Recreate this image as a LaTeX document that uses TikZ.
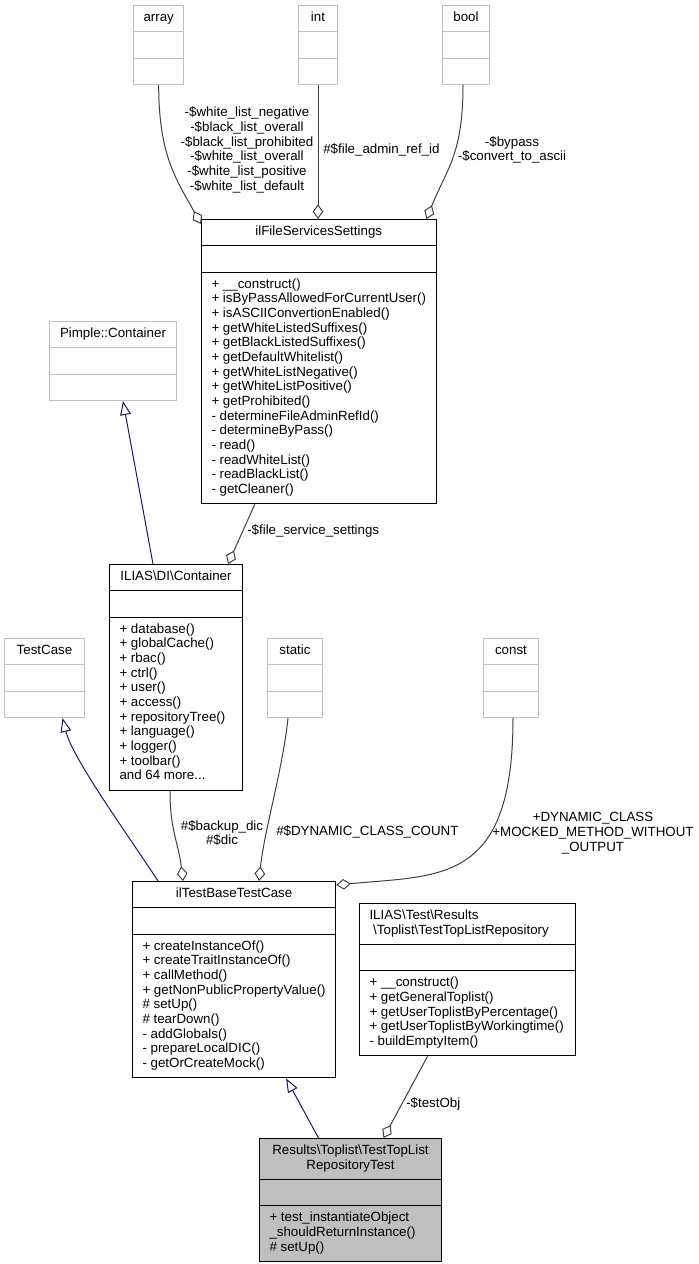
\documentclass[tikz,border=0pt]{standalone}
\usepackage{fontspec}
\setmainfont{Liberation Sans}
\usetikzlibrary{shapes.multipart,arrows.meta,calc}
\definecolor{extgray}{HTML}{BFBFBF}
\definecolor{curfill}{HTML}{BFBFBF}
\definecolor{aggline}{HTML}{404040}
\definecolor{inhline}{HTML}{191970}
\newcommand{\bs}{\textbackslash}
\tikzset{
  umlclass/.style={draw=black, line width=0.75pt, anchor=north west,
    rectangle split, rectangle split parts=3,
    rectangle split part align={center,left,left},
    rectangle split empty part height=7.7pt, rectangle split empty part depth=3.3pt,
    inner xsep=7.5pt, inner ysep=4pt, align=left, font=\fontsize{10}{11}\selectfont},
  extclass/.style={umlclass, draw=extgray},
  curclass/.style={umlclass, fill=curfill},
  aggr/.style={draw=aggline, line width=0.75pt, -{Diamond[open,length=11pt,width=8pt]}},
  inherit/.style={draw=inhline, line width=0.75pt, -{Triangle[open,length=10.5pt,width=8pt]}},
  edgelabel/.style={align=center, inner sep=0pt, font=\fontsize{10}{11}\selectfont}
}
\begin{document}
\begin{tikzpicture}[x=0.75pt,y=-0.75pt]
\useasboundingbox (0,0) rectangle (699,1264);
\node[extclass, minimum width=37.5pt] (array) at (133,5) {\strut array};
\node[extclass, minimum width=29.25pt] (int) at (298,5) {\strut int};
\node[extclass, minimum width=35.25pt] (bool) at (442,5) {\strut bool};
\node[umlclass, minimum width=175.5pt] (fss) at (201,219) {\strut ilFileServicesSettings
  \nodepart{third}\strut + \_\_construct()\\+ isByPassAllowedForCurrentUser()\\+ isASCIIConvertionEnabled()\\
  + getWhiteListedSuffixes()\\+ getBlackListedSuffixes()\\+ getDefaultWhitelist()\\+ getWhiteListNegative()\\
  + getWhiteListPositive()\\+ getProhibited()\\- determineFileAdminRefId()\\- determineByPass()\\- read()\\
  - readWhiteList()\\- readBlackList()\\- getCleaner()\strut};
\node[extclass, minimum width=95.25pt] (pimple) at (49,321) {\strut Pimple::Container};
\node[umlclass, minimum width=99.75pt] (dic) at (109,564) {\strut ILIAS\bs DI\bs Container
  \nodepart{third}\strut + database()\\+ globalCache()\\+ rbac()\\+ ctrl()\\+ user()\\+ access()\\
  + repositoryTree()\\+ language()\\+ logger()\\+ toolbar()\\and 64 more...\strut};
\node[extclass, minimum width=60pt] (testcase) at (4,638) {\strut TestCase};
\node[extclass, minimum width=41.25pt] (static) at (267,638) {\strut static};
\node[extclass, minimum width=41.25pt] (const) at (483,638) {\strut const};
\node[umlclass, minimum width=152.25pt] (base) at (132,881) {\strut ilTestBaseTestCase
  \nodepart{third}\strut + createInstanceOf()\\+ createTraitInstanceOf()\\+ callMethod()\\
  + getNonPublicPropertyValue()\\\# setUp()\\\# tearDown()\\- addGlobals()\\- prepareLocalDIC()\\
  - getOrCreateMock()\strut};
\node[umlclass, minimum width=162pt, rectangle split part align={left,left,left}] (repo) at (359,903)
  {\strut ILIAS\bs Test\bs Results\\\ \bs Toplist\bs TestTopListRepository\strut
  \nodepart{third}\strut + \_\_construct()\\+ getGeneralToplist()\\+ getUserToplistByPercentage()\\
  + getUserToplistByWorkingtime()\\- buildEmptyItem()\strut};
\node[curclass, minimum width=136.5pt] (test) at (259,1138)
  {\begin{tabular}{@{}c@{}}Results\bs Toplist\bs TestTopList\\RepositoryTest\end{tabular}
  \nodepart{third}\strut + test\_instantiateObject\\\_shouldReturnInstance()\\\# setUp()\strut};
\draw[aggr] (array.south) .. controls +(0,70) and +(-25,-45) .. ($(fss.north west)+(0,5)$);
\draw[aggr] (int.south) -- (int.south |- fss.north);
\draw[aggr] ($(bool.south)+(-3,0)$) .. controls +(0,70) and +(20,-50) .. ($(fss.north east)+(-10,0)$);
\draw[inherit] ($(dic.north)+(-23,0)$) -- ($(pimple.south)+(10,0)$);
\draw[aggr] ($(fss.south)+(-64,0)$) -- ($(dic.north east)+(-15,0)$);
\draw[inherit] ($(base.north)+(-76,0)$) .. controls +(-33,-50) and +(10,40) .. ($(testcase.south)+(18,0)$);
\draw[aggr] ($(dic.south)+(-6,0)$) .. controls +(0,40) and +(-5,-40) .. ($(base.north)+(-51,0)$);
\draw[aggr] ($(static.south)+(-7,0)$) .. controls +(-5,50) and +(5,-50) .. ($(base.north)+(25,0)$);
\draw[aggr] ($(const.south)+(2,0)$) .. controls +(0,166) and +(105,-10) .. ($(base.north east)+(0,4)$);
\draw[inherit] ($(test.north)+(-32,0)$) -- ($(base.south)+(52,0)$);
\draw[aggr] ($(repo.south)+(-40,0)$) -- ($(test.north)+(33,0)$);
\node[edgelabel] (arraylbl) at (247,150) {-\$white\_list\_negative\\-\$black\_list\_overall\\-\$black\_list\_prohibited\\
  -\$white\_list\_overall\\-\$white\_list\_positive\\-\$white\_list\_default};
\node[edgelabel, anchor=west] (intlbl) at (323,150) {\#\$file\_admin\_ref\_id};
\node[edgelabel] (boollbl) at (512,150) {-\$bypass\\-\$convert\_to\_ascii};
\node[edgelabel, anchor=west] (fsslbl) at (247,531) {-\$file\_service\_settings};
\node[edgelabel] (diclbl) at (222,833) {\#\$backup\_dic\\\#\$dic};
\node[edgelabel, anchor=west] (staticlbl) at (276,832) {\#\$DYNAMIC\_CLASS\_COUNT};
\node[edgelabel] (constlbl) at (593,833) {+DYNAMIC\_CLASS\\+MOCKED\_METHOD\_WITHOUT\\\_OUTPUT};
\node[edgelabel, anchor=west] (repolbl) at (406,1104) {-\$testObj};
\end{tikzpicture}
\end{document}
